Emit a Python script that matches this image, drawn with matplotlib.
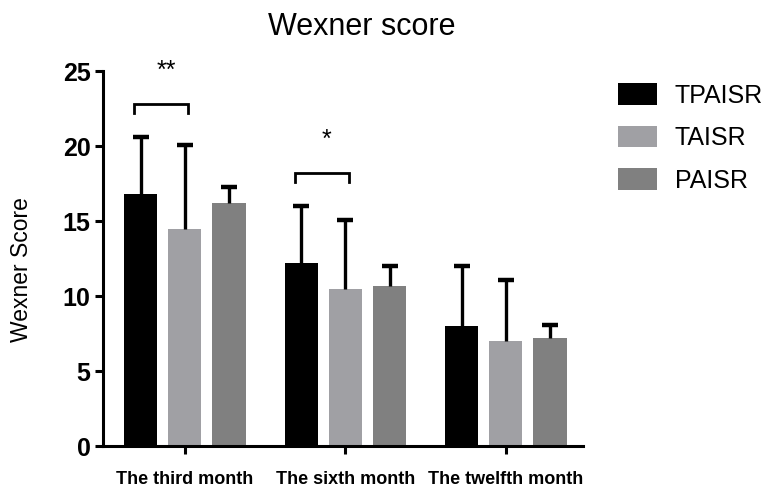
import matplotlib
matplotlib.use("Agg")
import matplotlib.pyplot as plt
import numpy as np

plt.rcParams['font.family'] = ['Liberation Sans', 'DejaVu Sans']

# Data
categories = ["The third month", "The sixth month", "The twelfth month"]
groups = ["TPAISR", "TAISR", "PAISR"]
means = {
    "TPAISR": [16.8, 12.2, 8.0],
    "TAISR": [14.5, 10.5, 7.0],
    "PAISR": [16.2, 10.7, 7.2],
}
sds = {
    "TPAISR": [3.8, 3.8, 4.0],
    "TAISR": [5.6, 4.6, 4.1],
    "PAISR": [1.1, 1.3, 0.9],
}
colors = {"TPAISR": "#000000", "TAISR": "#a0a0a4", "PAISR": "#808080"}
yticks = [0, 5, 10, 15, 20, 25]
# significance markers: (group index, label)
sig = [(0, "**"), (1, "*")]

fig = plt.figure(figsize=(7.69, 4.88), dpi=100)
ax = fig.add_axes([0.134, 0.086, 0.624, 0.768])

x = np.arange(len(categories))
width = 0.206
step = 0.275
for i, g in enumerate(groups):
    pos = x + (i - 1) * step
    ax.bar(pos, means[g], width=width, color=colors[g], label=g, zorder=2)
    eb = ax.errorbar(pos, means[g], yerr=[np.zeros(len(x)), sds[g]], fmt="none",
                     ecolor="black", elinewidth=2.4, capsize=5.5, capthick=3.2,
                     zorder=3)
    # upper-only error bars: hide the cap at the bar top
    eb[1][0].set_visible(False)

# significance brackets between TPAISR and TAISR
for gi, label in sig:
    x0 = gi - step - 0.04
    x1 = gi + 0.02
    top = max(means["TPAISR"][gi] + sds["TPAISR"][gi],
              means["TAISR"][gi] + sds["TAISR"][gi]) + 2.2
    ax.plot([x0, x0, x1, x1], [top - 0.6, top, top, top - 0.6],
            color="black", lw=2.0, solid_joinstyle="miter", clip_on=False)
    ax.text((x0 + x1) / 2 + 0.03, top + 2.2, label, ha="center", va="center",
            fontsize=18, clip_on=False)

ax.set_xlim(-0.51, 2.48)
ax.set_ylim(0, 25)
ax.set_yticks(yticks)
ax.set_yticklabels([str(v) for v in yticks], fontsize=18, fontweight="bold")
ax.set_xticks(x)
ax.set_xticklabels(categories, fontsize=13, fontweight="bold")
for s in ["top", "right"]:
    ax.spines[s].set_visible(False)
for s in ["left", "bottom"]:
    ax.spines[s].set_linewidth(2.2)
ax.tick_params(axis="both", direction="out", length=6, width=2.2, pad=3)
ax.tick_params(axis="x", pad=12)

ax.set_ylabel("Wexner Score", fontsize=16.5)
ax.yaxis.set_label_coords(-0.145, 0.47)
fig.text(0.47, 0.945, "Wexner score", ha="center", va="center", fontsize=22)

leg = fig.legend(loc="upper left", bbox_to_anchor=(0.787, 0.855), frameon=False,
                 fontsize=18, handlelength=1.56, handleheight=0.96,
                 handletextpad=0.72, labelspacing=0.72, borderpad=0)

fig.savefig("out.png", dpi=100)
